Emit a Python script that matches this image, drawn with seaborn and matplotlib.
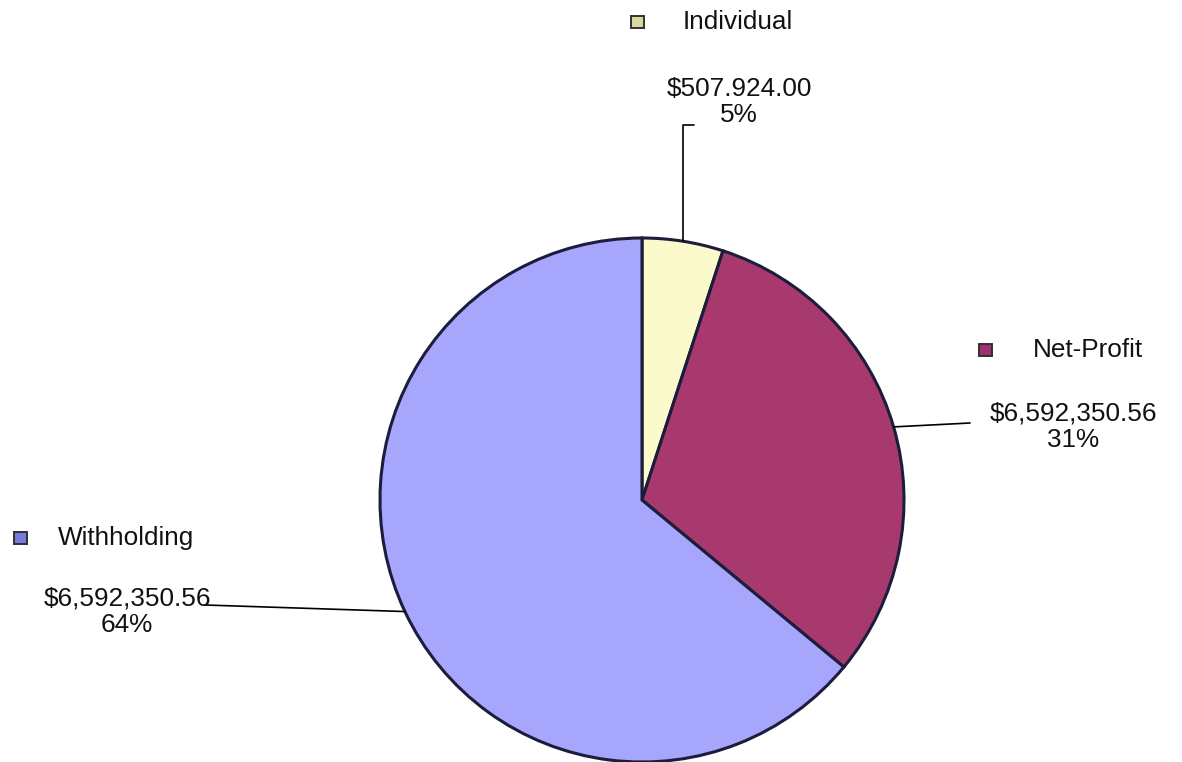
import numpy as np
import matplotlib
matplotlib.use("Agg")
import matplotlib.pyplot as plt
from matplotlib.patches import Rectangle
import seaborn as sns

categories = ["Individual", "Net-Profit", "Withholding"]
shares = [5, 31, 64]
value_labels = ["$507.924.00", "$6,592,350.56", "$6,592,350.56"]
pct_labels = ["5%", "31%", "64%"]
colors = ["#FAFACC", "#A8396E", "#A6A6FC"]
marker_colors = ["#D8D8A0", "#A03070", "#7878E0"]

sns.set_theme(style="white")
plt.rcParams["font.family"] = ["Liberation Sans", "DejaVu Sans"]

W, H = 1182, 762
fig = plt.figure(figsize=(W / 100, H / 100), dpi=100)
ax = fig.add_axes([0, 0, 1, 1])

cx, cy, R = 642, H - 500, 262
wedges, _ = ax.pie(shares, colors=colors, startangle=90, counterclock=False,
                   center=(cx, cy), radius=R,
                   wedgeprops=dict(edgecolor="#1C1C3C", linewidth=2.2))
ax.set_xlim(0, W)
ax.set_ylim(0, H)
ax.set_aspect("equal")
ax.axis("off")

def img(y):
    return H - y

FS = 18.8

# legend-style markers and names (image coords)
legend_pos = [(637, 22), (985, 350), (20, 538)]
name_x = [683, 1033, 58]
for i, (mx, my) in enumerate(legend_pos):
    ax.add_patch(Rectangle((mx - 6.5, img(my) - 6), 13, 12,
                           facecolor=marker_colors[i], edgecolor="#303030", lw=1.4))
    ax.text(name_x[i], img(my), categories[i], fontsize=FS, ha="left", va="center",
            color="#111111")

# value / percentage labels
label_pos = [(739, 102), (1073, 427), (127, 612)]
for i, (lx, ly) in enumerate(label_pos):
    ax.text(lx, img(ly), value_labels[i] + "\n" + pct_labels[i], fontsize=FS,
            ha="center", va="center", multialignment="center",
            linespacing=1.15, color="#111111")

# leader lines from each wedge's mid-angle edge point
def edge_point(w):
    ang = np.deg2rad((w.theta1 + w.theta2) / 2)
    return cx + R * np.cos(ang), cy + R * np.sin(ang)

ex, ey = edge_point(wedges[0])
ax.plot([ex, ex, 694], [ey, img(125), img(125)], color="black", lw=1.2)
ex, ey = edge_point(wedges[1])
ax.plot([ex, 970], [ey, img(423)], color="black", lw=1.2)
ex, ey = edge_point(wedges[2])
ax.plot([ex, 205], [ey, img(605)], color="black", lw=1.2)

fig.savefig("out.png", dpi=100)
